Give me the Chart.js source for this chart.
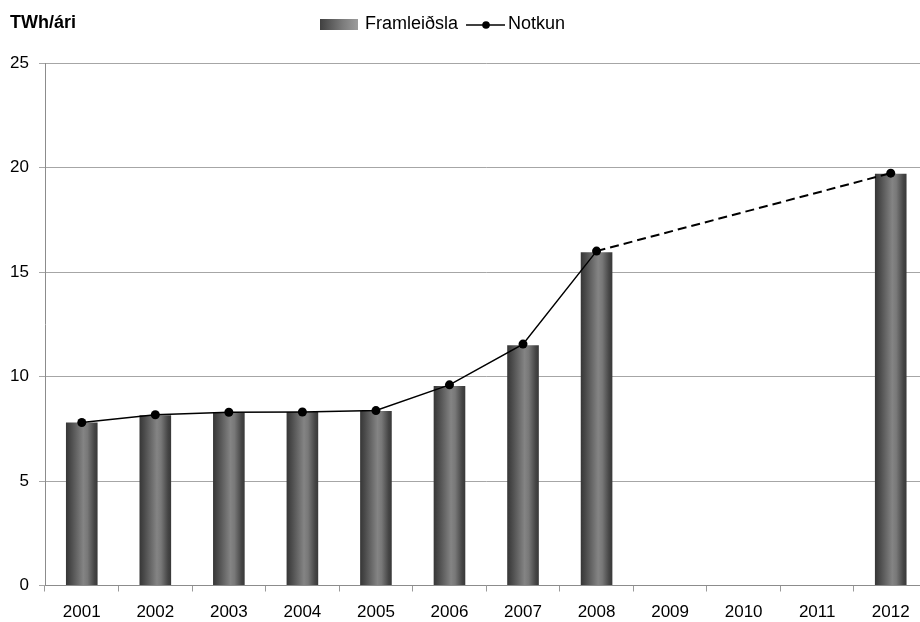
<!DOCTYPE html>
<html>
<head>
<meta charset="utf-8">
<script src="https://cdn.jsdelivr.net/npm/chart.js@4"></script>
<style>
  html, body { margin: 0; padding: 0; background: #fff; overflow: hidden; }
  #wrap { width: 932px; height: 622px; position: relative; }
</style>
</head>
<body>
<div id="wrap"><canvas id="orkuChart"></canvas></div>
<script>
const years = ['2001', '2002', '2003', '2004', '2005', '2006', '2007', '2008', '2009', '2010', '2011', '2012'];
const framleidsla = [7.8, 8.15, 8.27, 8.3, 8.35, 9.55, 11.5, 15.95, null, null, null, 19.7];
const notkun = [7.8, 8.17, 8.29, 8.3, 8.37, 9.6, 11.55, 16.0, null, null, null, 19.73];
const yTicks = [0, 5, 10, 15, 20, 25];
const unitLabel = 'TWh/ári';
const seriesNames = ['Framleiðsla', 'Notkun'];

const FONT = "'Liberation Sans', Arial, sans-serif";
const barPct = 0.43;

function barGradient(c) {
  const chart = c.chart;
  if (!chart.chartArea || c.type !== 'data') return '#5a5a5a';
  const xs = chart.scales.x;
  const x = xs.getPixelForValue(c.dataIndex);
  const w = xs.width / years.length * barPct;
  const g = chart.ctx.createLinearGradient(x - w / 2, 0, x + w / 2, 0);
  g.addColorStop(0, '#363636');
  g.addColorStop(0.15, '#4a4a4a');
  g.addColorStop(0.55, '#848484');
  g.addColorStop(0.68, '#787878');
  g.addColorStop(0.9, '#454545');
  g.addColorStop(1, '#383838');
  return g;
}

// gap in the data -> dashed, slightly heavier line
const gap = (c, v, d) => (c.p0.skip || c.p1.skip ? v : d);

// title and legend sit on one row above the plot
const headerPlugin = {
  id: 'header',
  afterDraw(chart) {
    const ctx = chart.ctx;
    ctx.save();
    ctx.fillStyle = '#000';
    ctx.textBaseline = 'alphabetic';
    ctx.font = 'bold 18px ' + FONT;
    ctx.fillText(unitLabel, 10, 27.5);

    ctx.font = '18px ' + FONT;
    let x = 320;
    const g = ctx.createLinearGradient(x, 0, x + 38, 0);
    g.addColorStop(0, '#404040');
    g.addColorStop(0.6, '#7c7c7c');
    g.addColorStop(1, '#9c9c9c');
    ctx.fillStyle = g;
    ctx.fillRect(x, 19, 38, 11);
    x += 45;
    ctx.fillStyle = '#000';
    ctx.fillText(seriesNames[0], x, 28.5);
    x += ctx.measureText(seriesNames[0]).width + 8;

    ctx.strokeStyle = '#000';
    ctx.lineWidth = 1.5;
    ctx.beginPath();
    ctx.moveTo(x, 25);
    ctx.lineTo(x + 39, 25);
    ctx.stroke();
    ctx.beginPath();
    ctx.arc(x + 20, 25, 3.8, 0, Math.PI * 2);
    ctx.fill();
    x += 42;
    ctx.fillText(seriesNames[1], x, 28.5);
    ctx.restore();
  }
};

const ctx = document.getElementById('orkuChart').getContext('2d');

const orkuChart = new Chart(ctx, {
  data: {
    labels: years,
    datasets: [{
      type: 'line',
      label: seriesNames[1],
      data: notkun,
      order: 0,
      borderColor: '#000',
      borderWidth: 1.5,
      pointRadius: 4.5,
      pointBackgroundColor: '#000',
      pointBorderColor: '#000',
      pointBorderWidth: 0,
      spanGaps: true,
      tension: 0,
      segment: {
        borderDash: c => gap(c, [9, 5], undefined),
        borderWidth: c => gap(c, 2, 1.5)
      }
    }, {
      type: 'bar',
      label: seriesNames[0],
      data: framleidsla,
      order: 1,
      backgroundColor: barGradient,
      borderWidth: 0,
      barPercentage: barPct,
      categoryPercentage: 1
    }]
  },
  options: {
    responsive: true,
    maintainAspectRatio: false,
    animation: false,
    layout: {
      padding: { left: 0, right: 1, top: 63, bottom: 0 }
    },
    plugins: {
      legend: { display: false },
      title: { display: false },
      tooltip: { enabled: false }
    },
    scales: {
      x: {
        offset: true,
        grid: {
          offset: true,
          drawOnChartArea: false,
          drawTicks: true,
          tickLength: 6,
          color: '#9a9a9a'
        },
        border: { color: '#8c8c8c', width: 1 },
        ticks: {
          color: '#000',
          padding: 11,
          maxRotation: 0,
          font: { family: FONT, size: 17 }
        },
        afterFit(scale) { scale.height = 36.5; }
      },
      y: {
        min: 0,
        max: 25,
        afterBuildTicks(scale) { scale.ticks = yTicks.map(v => ({ value: v })); },
        grid: {
          color: '#a6a6a6',
          drawTicks: true,
          tickLength: 6
        },
        border: { color: '#8c8c8c', width: 1 },
        ticks: {
          color: '#000',
          padding: 10,
          font: { family: FONT, size: 17 }
        },
        afterFit(scale) { scale.width = 45; }
      }
    }
  },
  plugins: [headerPlugin]
});
</script>
</body>
</html>
